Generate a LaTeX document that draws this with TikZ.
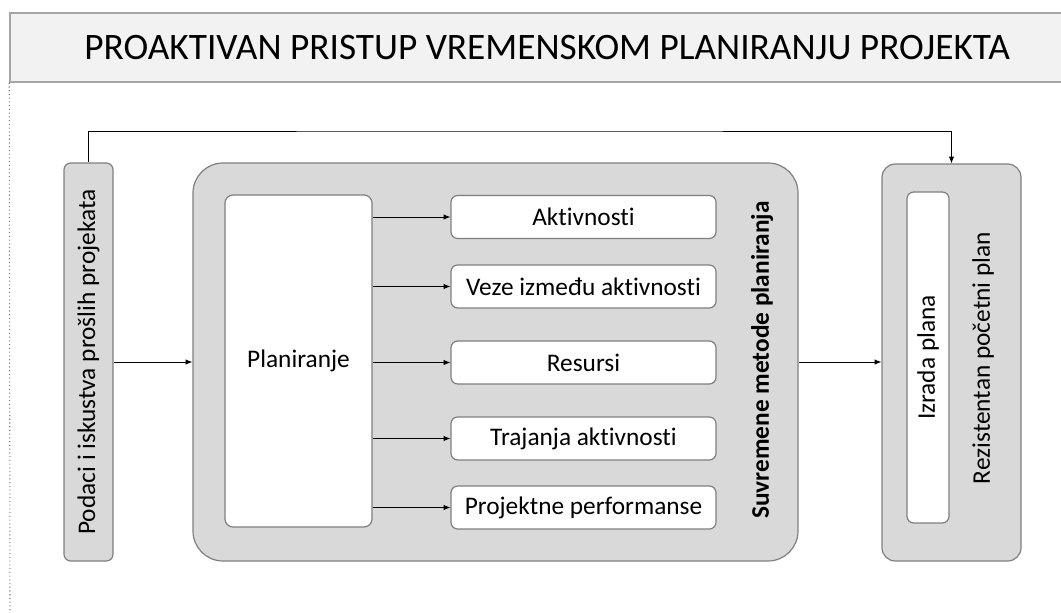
\documentclass[tikz,border=0pt]{standalone}
\usepackage{fontspec}
\setmainfont{Carlito}[Ligatures=NoCommon]
\usetikzlibrary{arrows.meta}
\definecolor{okvir}{HTML}{7F7F7F}
\definecolor{siva}{HTML}{D9D9D9}
\definecolor{svijetla}{HTML}{F2F2F2}
\tikzset{
  sivibox/.style={draw=okvir, fill=siva, line width=0.9pt, inner sep=0pt},
  bijelibox/.style={draw=okvir, fill=white, line width=0.9pt, rounded corners=5pt, inner sep=0pt},
  strelica/.style={-{Latex[length=5pt,width=4pt]}, line width=0.7pt}
}
\begin{document}
\begin{tikzpicture}[x=0.75pt, y=-0.75pt, font=\fontsize{19}{22}\selectfont]
		\useasboundingbox (0,0) rectangle (1061,612);
		
		% naslov
		\node[draw=okvir!70, fill=svijetla, line width=1.1pt, minimum width=805.5pt, minimum height=51.75pt, font=\fontsize{28}{32}\selectfont] (naslov) at (547,47.5) {PROAKTIVAN PRISTUP VREMENSKOM PLANIRANJU PROJEKTA};
		\coordinate (dno) at (10,612);
		\draw[okvir, dotted, line width=0.8pt] (naslov.south west) -- (dno);
		
		% lijevo
		\node[sivibox, rounded corners=5pt, rotate=90, minimum width=298.5pt, minimum height=36.75pt] (podaci) at (88.5,362) {Podaci i iskustva prošlih projekata};
		
		% sredina
		\node[sivibox, rounded corners=22.5pt, minimum width=453.75pt, minimum height=298.5pt] (metode) at (495.5,362) {};
		\node[bijelibox, rounded corners=6pt, minimum width=110.25pt, minimum height=249pt] (plan) at (298.5,361) {Planiranje};
		\node[rotate=90, font=\fontsize{19}{22}\selectfont\bfseries] (metodeTxt) at (762,360) {Suvremene metode planiranja};
		
		\foreach \ime/\y/\tekst in {akt/217/Aktivnosti, veze/286.5/Veze između aktivnosti, res/362.5/Resursi, traj/438.5/Trajanja aktivnosti, perf/507.5/Projektne performanse}{
			\node[bijelibox, minimum width=198.75pt, minimum height=32.25pt] (\ime) at (583.5,\y) {\tekst};
			\draw[strelica] (plan.east |- \ime.west) -- (\ime.west);
		}
		
		% desno
		\node[sivibox, rounded corners=10pt, minimum width=104.25pt, minimum height=297.75pt] (rezultat) at (951.5,362.5) {};
		\node[bijelibox, rotate=90, minimum width=248.25pt, minimum height=31.5pt] (izrada) at (928,357.5) {Izrada plana};
		\node[rotate=90] (rezTxt) at (983,358) {Rezistentan početni plan};
		
		% veze
		\coordinate (gore) at (500,131);
		\draw[strelica] (podaci.south) -- (metode.west);
		\draw[strelica] (metode.east) -- (metode.east -| rezultat.west);
		\draw[strelica] (podaci.east) |- (gore) -| (rezultat.north);
\end{tikzpicture}
\end{document}
